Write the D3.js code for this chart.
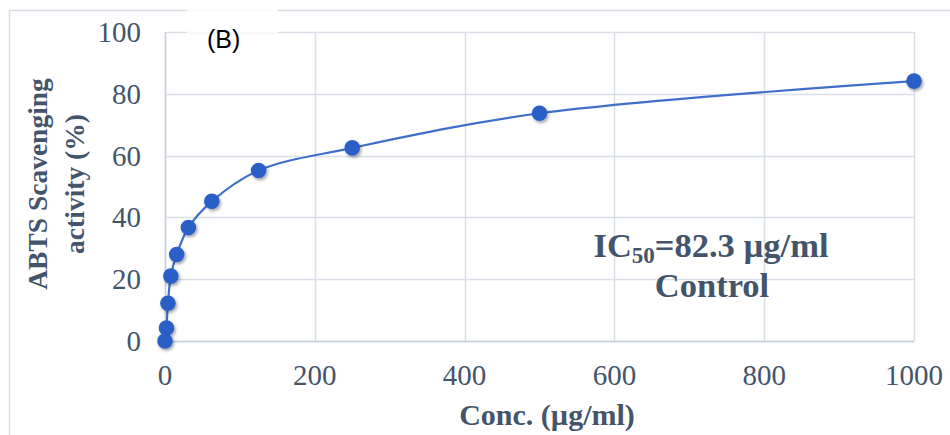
<!DOCTYPE html>
<html>
<head>
<meta charset="utf-8">
<script src="https://cdn.jsdelivr.net/npm/d3@7"></script>
<style>
  body { margin: 0; background: #fff; }
  svg { display: block; }
</style>
</head>
<body>
<div id="chart"></div>
<script>
// Data
const conc = [0, 1.95, 3.9, 7.8, 15.6, 31.25, 62.5, 125, 250, 500, 1000];
const activity = [0, 4.2, 12.2, 21, 28, 36.7, 45.2, 55.2, 62.5, 73.7, 84.1];
const xTicks = [0, 200, 400, 600, 800, 1000];
const yTicks = [0, 20, 40, 60, 80, 100];

const width = 950, height = 435;
const margin = { top: 32, right: 36, bottom: 94, left: 165 };
const textColor = '#44546a';
const gridColor = '#dadfe7';
const serif = 'Liberation Serif, Times New Roman, serif';

const svg = d3.select('#chart')
  .append('svg')
  .attr('width', width)
  .attr('height', height);

// Drop shadow for the markers
const defs = svg.append('defs');
const f = defs.append('filter').attr('id', 'shadow')
  .attr('x', '-50%').attr('y', '-50%').attr('width', '200%').attr('height', '200%');
f.append('feDropShadow')
  .attr('dx', 1.5).attr('dy', 2).attr('stdDeviation', 1.6)
  .attr('flood-color', '#000').attr('flood-opacity', 0.35);

// Outer chart frame
svg.append('rect')
  .attr('x', 9.5).attr('y', 10.5)
  .attr('width', 1000).attr('height', 500)
  .attr('fill', 'none')
  .attr('stroke', gridColor)
  .attr('stroke-width', 1.5);

const x = d3.scaleLinear()
  .domain([0, 1000])
  .range([margin.left, width - margin.right]);
const y = d3.scaleLinear()
  .domain([0, 100])
  .range([height - margin.bottom, margin.top]);

// Gridlines
svg.append('g')
  .selectAll('line')
  .data(yTicks)
  .join('line')
  .attr('x1', x(0)).attr('x2', x(1000))
  .attr('y1', (d) => Math.round(y(d)) + 0.5)
  .attr('y2', (d) => Math.round(y(d)) + 0.5)
  .attr('stroke', gridColor)
  .attr('stroke-width', 1.5);

svg.append('g')
  .selectAll('line')
  .data(xTicks)
  .join('line')
  .attr('x1', (d) => Math.round(x(d)) + 0.5)
  .attr('x2', (d) => Math.round(x(d)) + 0.5)
  .attr('y1', y(0)).attr('y2', y(100))
  .attr('stroke', gridColor)
  .attr('stroke-width', 1.5);

// Left axis line and bottom axis line (slightly bluer)
svg.append('line')
  .attr('x1', x(0) + 0.5).attr('x2', x(0) + 0.5)
  .attr('y1', y(0)).attr('y2', y(100))
  .attr('stroke', '#c5cde0').attr('stroke-width', 1.5);
svg.append('line')
  .attr('x1', x(0)).attr('x2', x(1000))
  .attr('y1', y(0) + 0.5).attr('y2', y(0) + 0.5)
  .attr('stroke', '#c5cde0').attr('stroke-width', 1.5);

// Tick labels
svg.append('g')
  .selectAll('text')
  .data(yTicks)
  .join('text')
  .attr('x', 141)
  .attr('y', (d) => y(d) + 10)
  .attr('text-anchor', 'end')
  .attr('font-family', serif)
  .attr('font-size', 29)
  .attr('fill', textColor)
  .text((d) => d);

svg.append('g')
  .selectAll('text')
  .data(xTicks)
  .join('text')
  .attr('x', (d) => x(d))
  .attr('y', 385)
  .attr('text-anchor', 'middle')
  .attr('font-family', serif)
  .attr('font-size', 29)
  .attr('fill', textColor)
  .text((d) => d);

// Axis titles
svg.append('text')
  .attr('x', 547)
  .attr('y', 425)
  .attr('text-anchor', 'middle')
  .attr('font-family', serif)
  .attr('font-weight', 'bold')
  .attr('font-size', 30)
  .attr('fill', textColor)
  .text('Conc. (µg/ml)');

const yTitle = svg.append('text')
  .attr('transform', 'translate(0,184) rotate(-90)')
  .attr('text-anchor', 'middle')
  .attr('font-family', serif)
  .attr('font-weight', 'bold')
  .attr('font-size', 27.5)
  .attr('fill', textColor);
yTitle.append('tspan').attr('x', 0).attr('y', 47).text('ABTS Scavenging');
yTitle.append('tspan').attr('x', 0).attr('y', 84).text('activity (%)');

// Smoothed line
const line = d3.line()
  .x((d, i) => x(conc[i]))
  .y((d) => y(d))
  .curve(d3.curveCatmullRom.alpha(0.5));

svg.append('path')
  .datum(activity)
  .attr('d', line)
  .attr('fill', 'none')
  .attr('stroke', '#3f6fc8')
  .attr('stroke-width', 2.2);

// Markers
svg.append('g')
  .attr('filter', 'url(#shadow)')
  .selectAll('circle')
  .data(activity)
  .join('circle')
  .attr('cx', (d, i) => x(conc[i]))
  .attr('cy', (d) => y(d))
  .attr('r', 7.8)
  .attr('fill', '#2c5fc8');

// Annotation
const note = svg.append('text')
  .attr('text-anchor', 'middle')
  .attr('font-family', serif)
  .attr('font-weight', 'bold')
  .attr('font-size', 34.5)
  .attr('fill', textColor);
const l1 = note.append('tspan').attr('x', 711).attr('y', 257);
l1.append('tspan').text('IC');
l1.append('tspan').attr('font-size', 23).attr('dy', 6).text('50');
l1.append('tspan').attr('dy', -6).text('=82.3 µg/ml');
note.append('tspan').attr('x', 712).attr('y', 297).text('Control');

// Panel label
svg.append('rect')
  .attr('x', 187).attr('y', 6)
  .attr('width', 91).attr('height', 27)
  .attr('fill', '#fff')
  .attr('opacity', 0.85);
svg.append('text')
  .attr('x', 207)
  .attr('y', 48)
  .attr('font-family', 'Liberation Sans, Arial, sans-serif')
  .attr('font-size', 25)
  .attr('fill', '#000')
  .text('(B)');
</script>
</body>
</html>
